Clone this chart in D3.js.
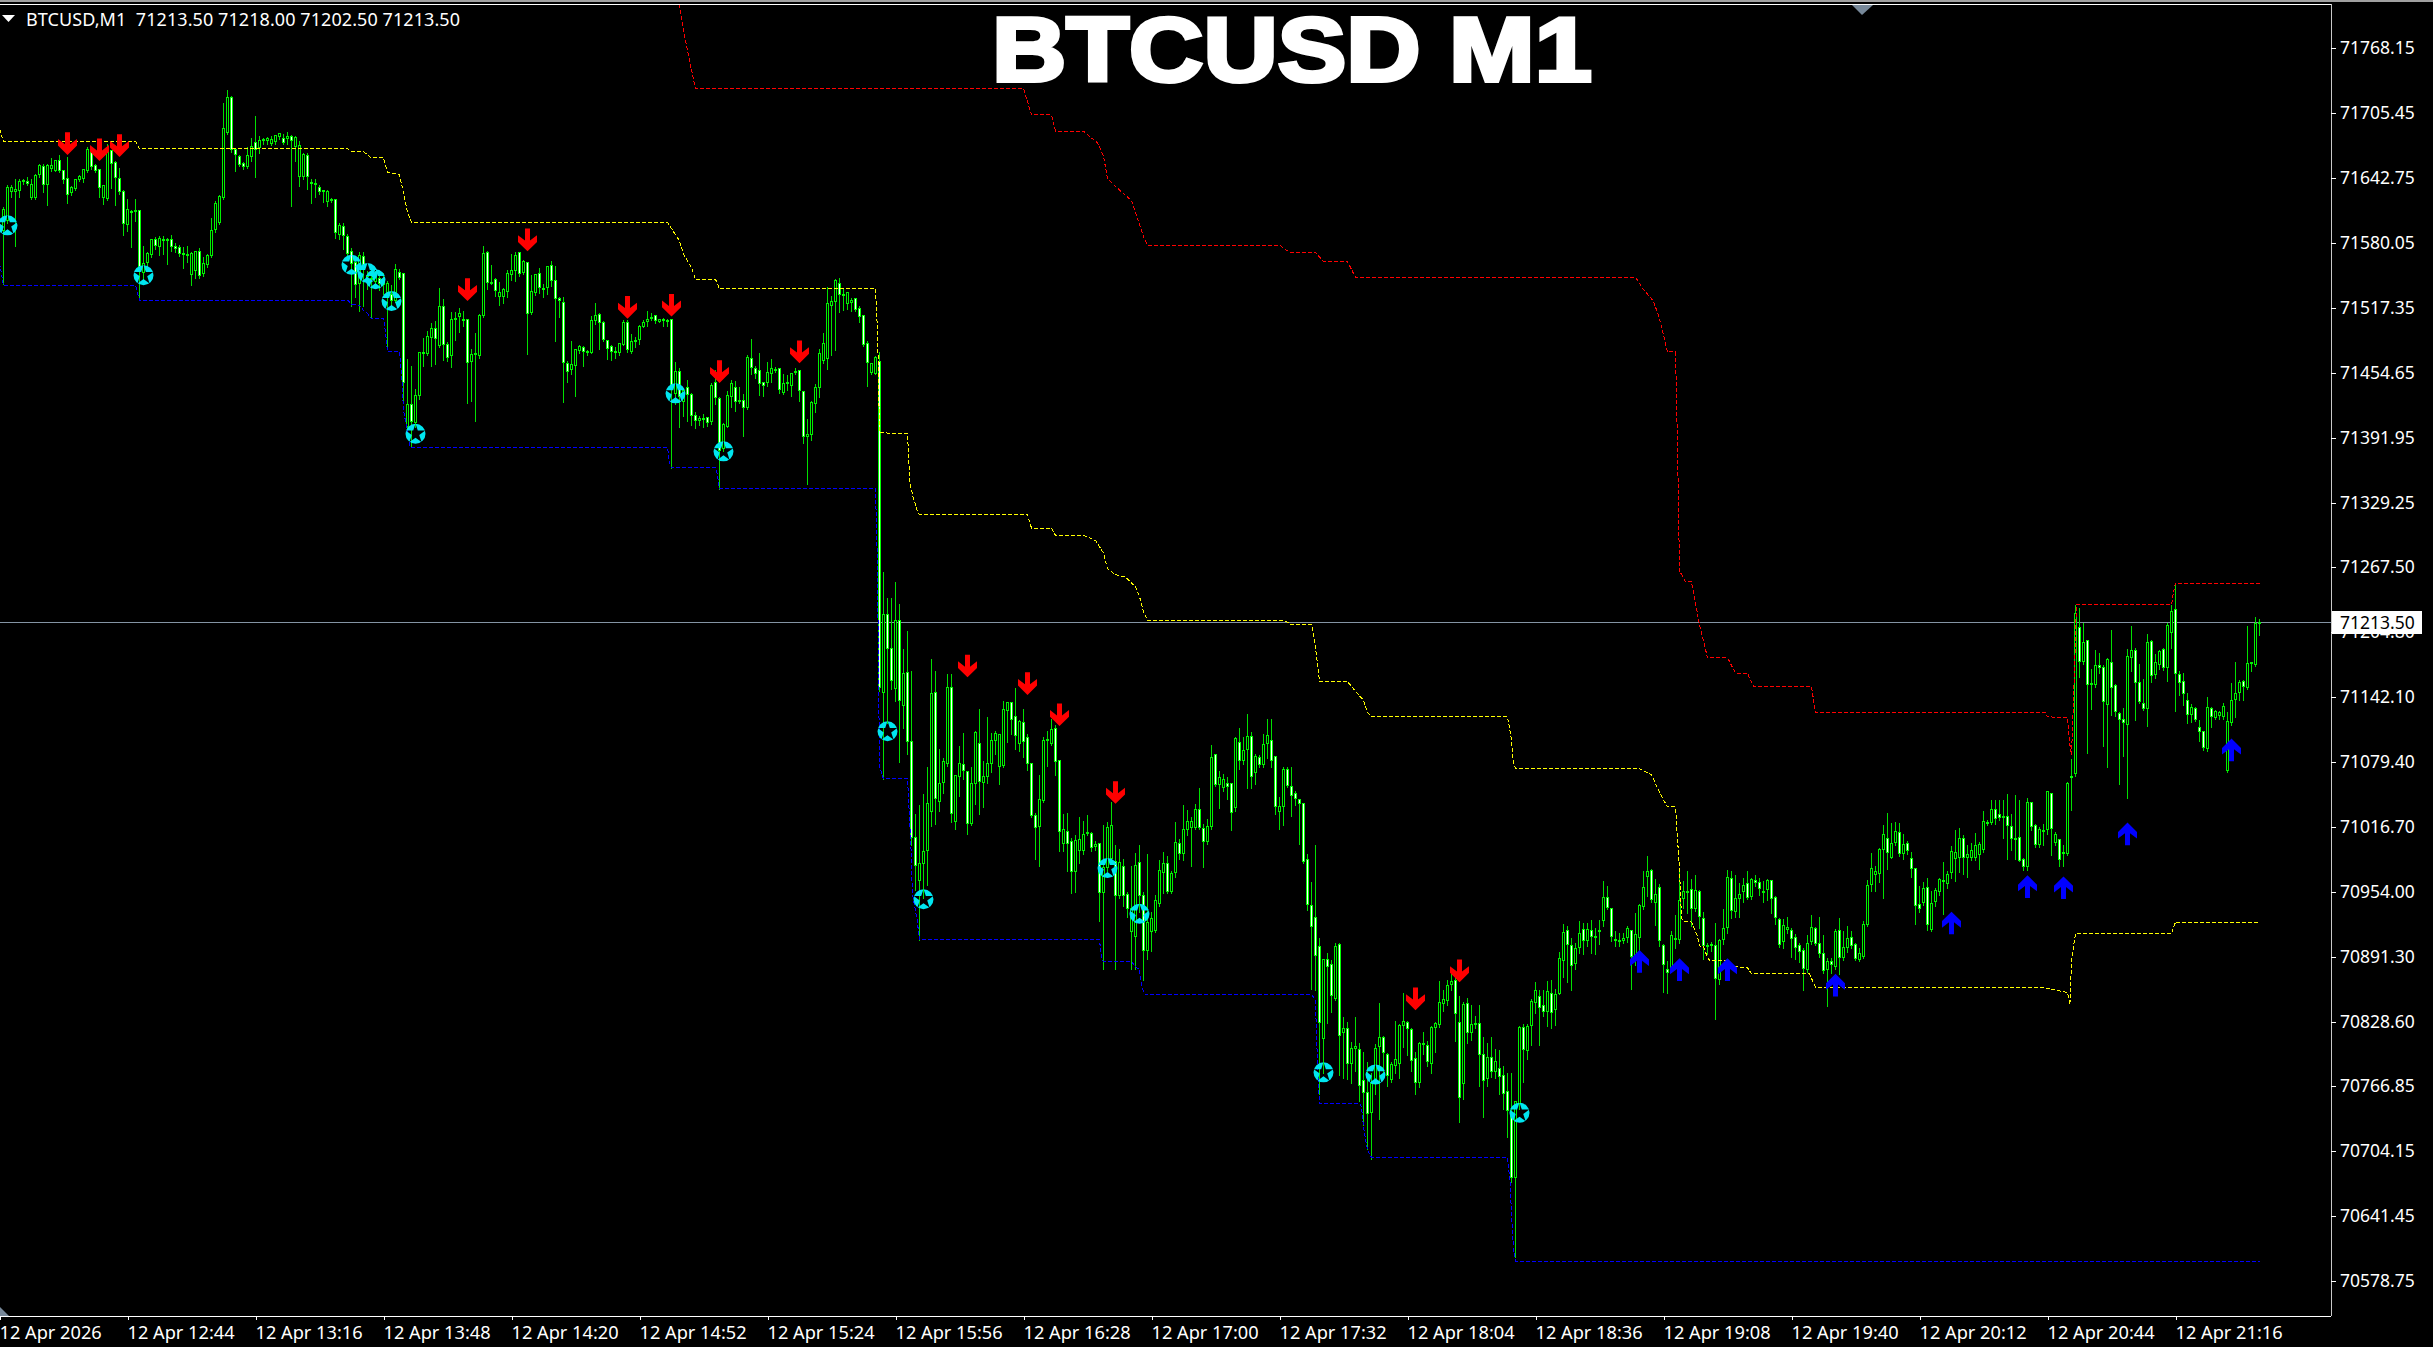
<!DOCTYPE html>
<html><head><meta charset="utf-8">
<script src="https://cdn.jsdelivr.net/npm/d3@7/dist/d3.min.js"></script>
<style>html,body{margin:0;padding:0;background:#000;overflow:hidden}svg{display:block}text{font-family:"Noto Sans",sans-serif}</style>
</head><body><svg id="c" width="2433" height="1347"></svg>
<script>
const opens=[71592,71602,71630,71630,71631,71639,71639,71624,71624,71646,71654,71636,71652,71650,71660,71650,71642,71629,71633,71641,71642,71650,71667,71655,71651,71624,71623,71669,71658,71642,71630,71598,71610,71610,71611,71552,71561,71569,71583,71577,71583,71582,71583,71577,71576,71570,71569,71550,71553,71572,71551,71559,71568,71593,71600,71624,71687,71720,71670,71663,71657,71654,71663,71677,71672,71679,71679,71676,71678,71683,71681,71681,71683,71673,71644,71644,71664,71638,71636,71634,71631,71620,71621,71622,71588,71596,71586,71572,71561,71541,71567,71549,71546,71543,71546,71545,71531,71530,71525,71552,71551,71403,71424,71407,71433,71474,71473,71489,71498,71481,71519,71482,71471,71506,71509,71506,71506,71466,71472,71471,71510,71571,71542,71545,71528,71528,71533,71550,71553,71571,71552,71561,71513,71532,71551,71536,71537,71558,71544,71526,71523,71464,71458,71462,71476,71479,71475,71474,71505,71511,71503,71486,71480,71475,71474,71482,71503,71475,71486,71487,71499,71504,71507,71510,71504,71506,71505,71506,71435,71456,71427,71441,71434,71414,71409,71411,71412,71408,71445,71430,71382,71403,71432,71441,71427,71428,71421,71469,71459,71457,71445,71445,71454,71458,71459,71436,71444,71443,71456,71457,71437,71393,71395,71425,71441,71467,71469,71520,71524,71541,71530,71522,71523,71526,71517,71510,71483,71455,71454,71466,71146,71222,71189,71150,71216,71134,71166,71099,71007,70965,70981,70994,71032,71146,71041,71060,71078,71151,71022,71065,71077,71070,71020,71059,71097,71060,71065,71078,71100,71075,71076,71129,71137,71123,71097,71117,71103,71078,71028,71017,71042,71100,71097,71112,71081,71001,71012,71003,70974,70994,70994,71010,71010,70998,71001,70953,70978,70986,70983,70951,70979,70952,70916,70911,70982,70951,70898,70916,70917,70943,70973,70981,70954,70973,71001,70991,71014,71016,71016,71034,71015,71003,71017,71087,71058,71055,71059,71059,71035,71098,71081,71091,71104,71069,71084,71077,71097,71100,71085,71032,71036,71072,71056,71049,71043,71039,70985,70941,70929,70901,70813,70889,70884,70851,70903,70818,70822,70789,70803,70802,70772,70761,70741,70769,70805,70814,70797,70773,70787,70789,70825,70828,70821,70793,70770,70808,70806,70789,70823,70826,70846,70849,70865,70869,70828,70769,70846,70818,70826,70827,70797,70774,70794,70781,70784,70777,70762,70741,70679,70750,70823,70801,70825,70847,70853,70844,70839,70856,70841,70856,70888,70917,70902,70885,70900,70918,70907,70917,70910,70917,70926,70949,70938,70908,70907,70907,70910,70917,70892,70910,70940,70969,70975,70944,70958,70902,70879,70879,70909,70908,70948,70954,70956,70938,70954,70928,70902,70903,70902,70870,70908,70920,70967,70935,70948,70954,70962,70950,70965,70963,70954,70956,70965,70949,70927,70906,70918,70917,70910,70902,70898,70879,70906,70919,70904,70895,70879,70887,70882,70917,70891,70900,70910,70903,70889,70892,70923,70961,70971,70972,70995,71006,70987,71002,71011,70991,71001,70986,70977,70942,70944,70958,70918,70945,70954,70965,70962,70973,70986,70987,71006,70987,70987,70987,70990,70995,71021,71021,71034,71029,71026,71027,71017,71006,71007,70985,70979,71040,71018,71000,71013,71014,71049,71002,71005,70992,70991,71065,71068,71209,71176,71197,71155,71154,71172,71171,71135,71175,71153,71126,71120,71116,71180,71187,71156,71136,71131,71196,71164,71173,71188,71171,71204,71226,71164,71157,71139,71125,71131,71113,71109,71092,71131,71122,71124,71123,71071,71117,71140,71146,71157,71151,71174,71173,71213.5];
const highs=[71615,71636,71636,71642,71642,71642,71644,71642,71647,71657,71657,71657,71662,71661,71665,71651,71663,71635,71642,71646,71652,71673,71672,71657,71652,71636,71676,71670,71660,71653,71632,71623,71612,71623,71612,71578,71572,71584,71586,71587,71587,71585,71588,71580,71579,71577,71578,71572,71573,71576,71567,71570,71605,71621,71627,71716,71728,71722,71671,71665,71659,71673,71682,71703,71684,71682,71683,71684,71685,71686,71686,71688,71685,71684,71679,71667,71667,71642,71642,71636,71632,71632,71624,71623,71600,71600,71589,71576,71568,71572,71572,71553,71554,71553,71550,71552,71544,71540,71560,71555,71552,71469,71462,71440,71475,71489,71496,71503,71505,71537,71526,71485,71514,71514,71518,71515,71507,71478,71494,71512,71578,71573,71559,71547,71543,71537,71554,71570,71572,71572,71564,71562,71550,71550,71556,71541,71558,71563,71558,71528,71528,71467,71486,71478,71482,71481,71477,71510,71523,71513,71505,71487,71482,71480,71483,71506,71506,71493,71490,71501,71506,71515,71513,71510,71507,71508,71507,71506,71466,71460,71440,71448,71436,71417,71414,71416,71412,71445,71458,71432,71407,71438,71448,71447,71442,71435,71472,71488,71462,71474,71446,71466,71469,71461,71460,71454,71453,71455,71460,71458,71437,71411,71428,71444,71478,71494,71538,71529,71546,71547,71536,71533,71527,71526,71520,71511,71486,71465,71471,71475,71263,71238,71238,71253,71232,71189,71206,71168,71030,71038,71049,71075,71179,71168,71092,71084,71165,71165,71066,71095,71108,71071,71075,71110,71131,71081,71123,71108,71110,71107,71139,71137,71137,71151,71120,71131,71107,71079,71031,71067,71104,71110,71121,71116,71082,71030,71031,71007,71009,71027,71023,71029,71012,71004,71001,71019,71022,71041,71000,70996,70986,70954,70980,70992,71000,70954,70991,70935,70952,70985,70993,70989,70975,71022,71006,71038,71034,71027,71039,71055,71020,71025,71096,71088,71071,71068,71065,71059,71104,71113,71104,71126,71109,71088,71087,71107,71121,71121,71086,71046,71075,71075,71075,71052,71044,71040,70991,70964,71000,70910,70889,70896,70889,70905,70905,70834,70829,70810,70834,70809,70800,70790,70780,70808,70847,70816,70799,70790,70830,70827,70857,70830,70823,70800,70810,70819,70811,70825,70829,70869,70860,70870,70875,70875,70854,70848,70852,70845,70835,70845,70815,70809,70815,70803,70802,70787,70780,70780,70752,70825,70827,70827,70851,70868,70860,70860,70869,70870,70861,70897,70924,70922,70910,70905,70926,70925,70925,70927,70920,70927,70965,70960,70939,70917,70915,70915,70922,70918,70934,70943,70975,70989,70977,70967,70962,70904,70888,70917,70932,70977,70965,70975,70967,70971,70956,70935,70905,70906,70925,70909,70938,70976,70975,70971,70963,70968,70975,70968,70971,70968,70965,70967,70966,70951,70929,70928,70930,70920,70914,70905,70900,70913,70932,70921,70930,70913,70891,70891,70919,70929,70917,70922,70917,70905,70900,70926,70966,70992,70980,70997,71019,71031,71021,71022,71021,71010,71004,70993,70978,70960,70964,70968,70955,70958,70968,70983,70975,70999,71014,71016,71009,71000,71002,71011,71003,71033,71024,71043,71043,71043,71043,71049,71030,71048,71043,70987,71045,71041,71020,71017,71020,71052,71050,71012,71006,71000,71061,71083,71231,71228,71214,71198,71170,71188,71185,71173,71180,71207,71155,71128,71132,71189,71211,71190,71174,71160,71203,71198,71184,71188,71190,71214,71231,71252,71168,71166,71146,71136,71133,71120,71110,71143,71133,71130,71129,71137,71128,71156,71176,71159,71159,71211,71176,71220,71218];
const lows=[71541,71600,71625,71578,71625,71637,71636,71623,71623,71644,71630,71617,71650,71650,71649,71638,71619,71627,71632,71640,71639,71649,71652,71649,71625,71618,71622,71634,71617,71628,71588,71592,71577,71602,71526,71541,71557,71567,71575,71569,71570,71560,71573,71572,71568,71556,71562,71540,71547,71547,71549,71557,71567,71591,71599,71623,71686,71668,71650,71655,71652,71653,71660,71644,71667,71676,71676,71675,71676,71681,71676,71676,71616,71660,71635,71642,71633,71619,71625,71628,71620,71616,71620,71585,71584,71575,71565,71520,71528,71515,71520,71536,71508,71540,71535,71531,71478,71521,71524,71546,71429,71396,71384,71403,71430,71462,71472,71462,71464,71480,71468,71467,71461,71487,71495,71500,71426,71428,71409,71470,71509,71536,71541,71529,71521,71523,71528,71545,71544,71549,71551,71473,71512,71530,71532,71528,71531,71539,71486,71509,71427,71446,71454,71433,71474,71462,71472,71474,71502,71478,71486,71469,71468,71470,71472,71482,71475,71474,71480,71483,71499,71500,71506,71503,71504,71500,71500,71363,71425,71403,71414,71409,71405,71402,71405,71403,71404,71406,71425,71343,71380,71403,71422,71418,71426,71394,71420,71454,71450,71434,71433,71443,71446,71456,71436,71435,71439,71433,71454,71428,71388,71348,71390,71417,71432,71465,71459,71472,71477,71514,71516,71517,71515,71515,71504,71481,71443,71454,71454,71148,71063,71117,71150,71139,71080,71113,71088,71000,70956,70908,70949,70961,71018,71020,71033,71050,71076,71022,71015,71047,71063,71010,71019,71039,71030,71036,71060,71070,71088,71059,71075,71099,71107,71092,71090,71085,71072,71027,70986,70980,71041,71076,71096,71067,70994,70994,70975,70953,70954,70982,70991,71009,70994,70995,70926,70880,70975,70983,70880,70949,70941,70930,70880,70880,70935,70870,70890,70898,70916,70941,70953,70953,70953,70969,70986,70985,71009,70980,71015,71015,70979,71001,71015,71057,71035,71052,71044,71014,71033,71073,71078,71055,71055,71059,71075,71075,71084,71075,71030,71015,71019,71056,71028,71038,71001,70982,70937,70861,70860,70760,70780,70828,70839,70850,70778,70775,70774,70770,70782,70753,70730,70707,70697,70760,70735,70780,70767,70771,70780,70775,70805,70797,70782,70760,70766,70798,70787,70780,70800,70824,70840,70845,70860,70811,70733,70755,70809,70812,70823,70767,70737,70767,70776,70775,70760,70745,70718,70675,70602,70745,70771,70793,70807,70838,70807,70835,70825,70823,70826,70856,70872,70868,70860,70880,70896,70895,70902,70896,70895,70904,70922,70938,70907,70902,70902,70905,70906,70861,70884,70880,70938,70951,70945,70923,70902,70858,70857,70877,70900,70905,70939,70934,70922,70936,70920,70890,70895,70898,70832,70866,70904,70915,70929,70930,70930,70945,70948,70948,70960,70952,70945,70947,70934,70924,70901,70900,70915,70892,70890,70887,70860,70877,70904,70903,70892,70876,70844,70876,70880,70875,70889,70897,70900,70889,70888,70891,70922,70955,70955,70964,70949,70977,70987,71000,70989,70986,70991,70969,70924,70935,70942,70918,70917,70941,70952,70933,70958,70968,70965,70974,70972,70969,70985,70985,70977,70993,71019,71020,71020,71024,71007,70986,70995,70986,70984,70976,70976,71014,70998,70998,71000,71010,70990,71000,70980,70980,70990,71034,71066,71162,71174,71089,71131,71152,71166,71095,71075,71125,71124,71059,71086,71045,71168,71120,71137,71130,71115,71157,71161,71170,71169,71158,71190,71129,71144,71135,71117,71118,71119,71100,71091,71090,71114,71121,71121,71121,71070,71116,71123,71140,71140,71150,71168,71172,71202.5];
const closes=[71612,71634,71634,71632,71639,71640,71637,71636,71645,71655,71636,71655,71655,71660,71650,71641,71627,71634,71641,71644,71651,71670,71654,71650,71634,71635,71670,71657,71643,71630,71599,71612,71609,71611,71557,71560,71570,71583,71578,71584,71582,71583,71577,71575,71570,71569,71569,71570,71572,71549,71560,71568,71592,71618,71625,71690,71720,71670,71665,71656,71654,71664,71673,71670,71679,71680,71681,71680,71684,71686,71677,71683,71679,71682,71674,71665,71644,71637,71637,71630,71630,71630,71622,71590,71597,71587,71570,71560,71540,71568,71556,71548,71545,71551,71541,71540,71541,71525,71554,71547,71445,71424,71408,71433,71474,71473,71490,71498,71488,71519,71482,71470,71506,71507,71512,71505,71465,71472,71473,71510,71570,71542,71542,71534,71532,71535,71551,71553,71568,71551,71562,71512,71533,71550,71537,71535,71557,71544,71526,71525,71465,71456,71463,71477,71480,71475,71474,71505,71510,71503,71487,71478,71475,71474,71483,71503,71477,71485,71485,71499,71503,71506,71508,71505,71506,71505,71504,71441,71456,71432,71438,71434,71414,71409,71411,71410,71407,71443,71431,71380,71405,71433,71444,71427,71428,71421,71470,71460,71454,71444,71443,71455,71459,71458,71439,71444,71445,71454,71456,71438,71393,71395,71426,71441,71473,71483,71522,71524,71544,71530,71529,71532,71525,71516,71509,71482,71465,71464,71470,71151,71222,71189,71158,71216,71139,71165,71099,71007,70980,70981,70993,71039,71145,71044,71059,71080,71151,71030,71066,71078,71071,71020,71059,71108,71061,71065,71078,71100,71107,71106,71130,71137,71120,71105,71118,71099,71078,71028,71016,71043,71100,71101,71111,71080,71012,71014,71001,70974,71004,71005,71009,71011,70997,71000,70953,70978,71016,71018,70951,70982,70951,70938,70938,70980,70951,70898,70925,70928,70946,70975,70981,70954,70972,71002,70991,71014,71022,71022,71034,71016,71003,71017,71084,71058,71064,71062,71056,71031,71102,71081,71090,71104,71065,71085,71077,71096,71105,71081,71036,71036,71072,71057,71047,71044,71039,70983,70942,70921,70893,70828,70889,70882,70854,70901,70816,70822,70789,70803,70805,70767,70761,70740,70769,70803,70814,70799,70777,70788,70792,70825,70829,70822,70791,70770,70808,70808,70790,70823,70827,70847,70850,70864,70868,70837,70756,70845,70818,70826,70827,70797,70772,70794,70781,70790,70776,70760,70743,70679,70752,70823,70802,70824,70848,70859,70843,70839,70858,70838,70855,70890,70915,70903,70883,70899,70914,70907,70918,70911,70911,70917,70949,70939,70911,70907,70907,70909,70919,70892,70913,70941,70958,70974,70947,70952,70907,70884,70876,70912,70909,70946,70954,70954,70938,70955,70930,70902,70902,70902,70871,70907,70919,70968,70936,70948,70952,70960,70949,70966,70963,70957,70954,70965,70948,70929,70903,70922,70920,70909,70900,70897,70880,70904,70920,70904,70895,70878,70887,70884,70916,70891,70900,70909,70902,70890,70895,70923,70960,70977,70974,70995,71009,70992,71001,71012,70991,71000,70994,70977,70941,70938,70957,70923,70943,70955,70966,70964,70971,70993,70992,71006,70987,70990,70994,70999,71000,71022,71020,71034,71025,71026,71027,71018,71006,71005,70984,70979,71040,71017,71000,71014,71013,71051,71015,71009,70985,70991,71059,71064,71223,71176,71195,71154,71155,71172,71171,71138,71178,71151,71128,71120,71117,71181,71187,71156,71138,71131,71195,71163,71175,71186,71171,71211,71225,71165,71156,71145,71125,71132,71120,71109,71093,71132,71123,71128,71127,71133,71118,71139,71145,71156,71152,71174,71175,71213,71213.5];

const yellowBars=[-1,0,33,34,86,87,90,91,92,95,96,99,100,101,102,166,169,170,172,173,178,179,218,218.3,218.6,219,226,226.2,226.6,227.4,228.4,229,256,257,262,263,270,273,275,276,278,280.4,283,284,285,286,320,322,327,328,329,336,339,340,341,342,376,377,377.5,378,409,412,414,416,418,419,419.5,420,422,423.5,424,425,426,426.5,431,432,433,436,437,451.5,453,510,512,516,516.6,517,518,542,543,564];
const yellowPrices=[71690,71678,71678,71671,71671,71668,71668,71665,71662,71662,71648,71646,71628,71610,71600,71600,71582,71569,71556,71545,71545,71536,71536,71513,71480,71397,71396,71380,71348,71335,71322,71318,71318,71305,71305,71298,71298,71293,71281,71266,71260,71258,71248,71239,71224,71216,71216,71212,71212,71190,71157,71157,71143,71139,71127,71123,71123,71101,71078,71073,71073,71067,71050,71036,71036,70975,70929,70926,70925,70911,70902,70901,70891,70888,70888,70884,70882,70881,70875,70875,70862,70862,70860,70857,70845,70888,70914,70914,70925,70925];
const blueBars=[-1,0,33,34,86,87,89,90,91,92,95,95.5,96,99,99.5,100,101,101.5,102,166,166.5,167,178,178.4,179,218,218.5,219,220,226,226.2,226.9,227.2,228.4,229,274,274.5,275,282,283,284,284.2,284.6,285.4,327,328,328.2,328.7,329,339,339.5,340,341,342,376,376.6,377,377.5,378,564];
const bluePrices=[71561,71539,71539,71525,71525,71521,71520,71515,71512,71507,71507,71494,71475,71475,71455,71419,71397,71385,71383,71383,71368,71363,71363,71358,71343,71343,71267,71075,71063,71063,71049,70994,70953,70927,70908,70908,70890,70887,70887,70882,70879,70872,70862,70855,70855,70850,70821,70770,70750,70750,70747,70727,70705,70698,70698,70676,70644,70609,70598,70598];
const redBars=[169,170,172,173,255,257,262,263,270,273.5,275,276,279,282,285,286,319,321.5,328,330,336,338,408,410,412.5,414,416,418,418.5,419,420.5,422,424,426,431,433,436,437.5,452,453,510.5,511,516,516.3,516.6,517,517.5,518,518.2,542,542.5,543,564];
const redPrices=[71810,71785,71747,71729,71729,71703.5,71703.5,71688,71688,71676.5,71664,71642,71631,71621,71586,71578,71578,71571,71571,71562,71562,71547,71547,71535,71524,71507,71475,71475,71384,71264,71253,71253,71212,71180,71180,71165,71165,71152,71152,71127,71127,71123,71122,71107,71096,71086,71139,71197,71231,71231,71243,71252,71252];

const downArrowBars=[16,24,29,116,131,156,167,179,199,241,256,264,278,353,364];
const downArrowPrices=[71665,71659,71663,71524,71572,71507,71509,71445,71464,71161,71144,71114,71039,70840,70867];
const upArrowBars=[409,419,431,458,487,506,515,531,557];
const upArrowPrices=[70898,70890,70890,70875,70935,70970,70969,71021,71102];
const starBars=[1,35,87,91,93,97,103,168,180,221,230,276,284,330,343,379];
const starPrices=[71597,71549,71559,71551,71545,71524,71396,71435,71379,71109,70947,70977,70933,70780,70778,70741];

const priceTicks=[71768.15,71705.45,71642.75,71580.05,71517.35,71454.65,71391.95,71329.25,71267.50,71204.80,71142.10,71079.40,71016.70,70954.00,70891.30,70828.60,70766.85,70704.15,70641.45,70578.75];
const timeTickBars=[-1,31,63,95,127,159,191,223,255,287,319,351,383,415,447,479,511,543];
const timeTickLabels=["12 Apr 2026","12 Apr 12:44","12 Apr 13:16","12 Apr 13:48","12 Apr 14:20","12 Apr 14:52","12 Apr 15:24","12 Apr 15:56","12 Apr 16:28","12 Apr 17:00","12 Apr 17:32","12 Apr 18:04","12 Apr 18:36","12 Apr 19:08","12 Apr 19:40","12 Apr 20:12","12 Apr 20:44","12 Apr 21:16"];
const symbolLabel="BTCUSD,M1  71213.50 71218.00 71202.50 71213.50";
const chartTitle="BTCUSD M1";
const lastPrice=71213.5;

const W=2433,H=1347,axisX=2331,axisY=1316,topY=4;
const x=d3.scaleLinear().domain([0,564]).range([3.5,2259.5]);
const y=d3.scaleLinear().domain([71814.4,70560.4]).range([0,1300]);
const px=v=>Math.floor(y(v))+.5;
const bx=i=>Math.floor(x(i))+.5;
const svg=d3.select("#c");
svg.append("rect").attr("width",W).attr("height",H).attr("fill","#000");
// frame
svg.append("rect").attr("width",W).attr("height",2).attr("fill","#a0a0a0");
svg.append("line").attr("x1",0).attr("x2",axisX).attr("y1",topY+.5).attr("y2",topY+.5).attr("stroke","#fff");
// chart clip
svg.append("defs").append("clipPath").attr("id","plot").append("rect").attr("x",0).attr("y",topY).attr("width",axisX).attr("height",axisY-topY);
const plot=svg.append("g").attr("clip-path","url(#plot)");
// price line
plot.append("line").attr("x1",0).attr("x2",axisX).attr("y1",px(lastPrice)).attr("y2",px(lastPrice)).attr("stroke","#8494a4").attr("shape-rendering","crispEdges");
// candles
const bars=d3.range(closes.length).map(i=>({i,o:opens[i],h:highs[i],l:lows[i],c:closes[i]}));
const cg=plot.append("g").attr("shape-rendering","crispEdges");
const gs=cg.selectAll("g").data(bars).join("g");
gs.append("line").attr("x1",d=>bx(d.i)).attr("x2",d=>bx(d.i))
  .attr("y1",d=>px(Math.max(d.h,d.o,d.c))).attr("y2",d=>px(Math.min(d.l,d.o,d.c))+1)
  .attr("stroke","#00e000");
gs.append("rect").attr("x",d=>bx(d.i)-1).attr("width",2)
  .attr("y",d=>px(Math.max(d.o,d.c))).attr("height",d=>Math.max(1,px(Math.min(d.o,d.c))-px(Math.max(d.o,d.c))))
  .attr("fill",d=>d.c>=d.o?"#000":"#fff").attr("stroke",d=>d.c>=d.o?"#00f000":"#00ff00");
// step lines
const line=d3.line().x(d=>x(d[0])).y(d=>y(d[1]));
[[yellowBars,yellowPrices,"#ffff00"],[redBars,redPrices,"#ff0000"],[blueBars,bluePrices,"#0000ff"]].forEach(([b,p,col])=>{
  plot.append("path").attr("d",line(b.map((v,k)=>[v,p[k]]))).attr("fill","none").attr("stroke",col)
   .attr("stroke-width",1).attr("stroke-dasharray","4 2").attr("shape-rendering","crispEdges");
});
// arrows
const downShape=[[-2.5,-22.7],[2.5,-22.7],[2.5,-10.7],[9.5,-16],[9.5,-9.4],[0,0],[-9.5,-9.4],[-9.5,-16],[-2.5,-10.7]];
const arrowPath=(dir)=>"M"+downShape.map(p=>[p[0],p[1]*dir].join(",")).join("L")+"Z";
plot.append("g").selectAll("path").data(downArrowBars).join("path").attr("fill","#ff0000")
  .attr("transform",(b,k)=>`translate(${x(b)},${y(downArrowPrices[k])})`).attr("d",arrowPath(1));
plot.append("g").selectAll("path").data(upArrowBars).join("path").attr("fill","#0000ff")
  .attr("transform",(b,k)=>`translate(${x(b)},${y(upArrowPrices[k])})`).attr("d",arrowPath(-1));
// star markers: ring disc with a star-shaped hole
const starHole=d3.symbol().type(d3.symbolStar).size(118)();
const disc=d3.path();disc.arc(0,0,10,0,Math.PI*2);
plot.append("g").selectAll("path").data(starBars).join("path").attr("fill","#00e6f0").attr("fill-rule","evenodd")
  .attr("transform",(b,k)=>`translate(${x(b)},${y(starPrices[k])})`).attr("d",disc.toString()+starHole);
// corner triangles
const tri=(pts)=>svg.append("path").attr("d",d3.line()(pts)+"Z").attr("fill","#778899");
tri([[0,1307],[9,axisY],[0,axisY]]);
tri([[1852,5],[1873,5],[1862,15]]);
// axes
svg.append("line").attr("x1",axisX).attr("x2",axisX).attr("y1",topY).attr("y2",axisY).attr("stroke","#c8c8c8").attr("shape-rendering","crispEdges");
const yAxis=d3.axisRight(y).tickValues(priceTicks).tickSize(5).tickPadding(4).tickFormat(d3.format(".2f"));
const ya=svg.append("g").attr("transform",`translate(${axisX},0)`).call(yAxis);
ya.select(".domain").remove();
ya.selectAll("line").attr("stroke","#fff").attr("shape-rendering","crispEdges").attr("transform","translate(0,0.5)");
ya.selectAll("text").attr("fill","#fff").style("font-size","17.5px").style("font-family",'"Noto Sans",sans-serif');
const xAxis=d3.axisBottom(x).tickValues(timeTickBars).tickSize(4).tickPadding(6).tickFormat((d,k)=>timeTickLabels[k]);
const xa=svg.append("g").attr("transform",`translate(0,${axisY})`).call(xAxis);
xa.select(".domain").remove();
xa.selectAll("line").attr("stroke","#fff").attr("shape-rendering","crispEdges");
xa.selectAll("text").attr("fill","#fff").attr("text-anchor","start").attr("dx",-0.5).style("font-size","18.2px").style("font-family",'"Noto Sans",sans-serif');
svg.append("line").attr("x1",0).attr("x2",axisX).attr("y1",axisY+.5).attr("y2",axisY+.5).attr("stroke","#fff").attr("shape-rendering","crispEdges");
// last price tag
const tagY=px(lastPrice);
svg.append("rect").attr("x",2332).attr("y",tagY-11.5).attr("width",90).attr("height",23).attr("fill","#fff");
svg.append("text").attr("x",2340).attr("y",tagY+6).attr("fill","#000").style("font-size","17.5px").text(d3.format(".2f")(lastPrice));
// header
svg.append("path").attr("d",d3.line()([[2,15],[15,15],[8.5,22]])+"Z").attr("fill","#fff");
svg.append("text").attr("x",26).attr("y",26).attr("fill","#fff").style("font-size","18px").attr("textLength",434).attr("xml:space","preserve").style("white-space","pre").text(symbolLabel);
// title
svg.append("text").attr("x",1292).attr("y",81).attr("text-anchor","middle").attr("fill","#fff").attr("stroke","#fff").attr("stroke-width",4).attr("stroke-linejoin","miter").attr("stroke-miterlimit",3)
 .style("font-family",'"Liberation Sans",Arial,sans-serif').style("font-weight",700).style("font-size","90px").attr("textLength",600).attr("lengthAdjust","spacingAndGlyphs").text(chartTitle);
</script></body></html>
